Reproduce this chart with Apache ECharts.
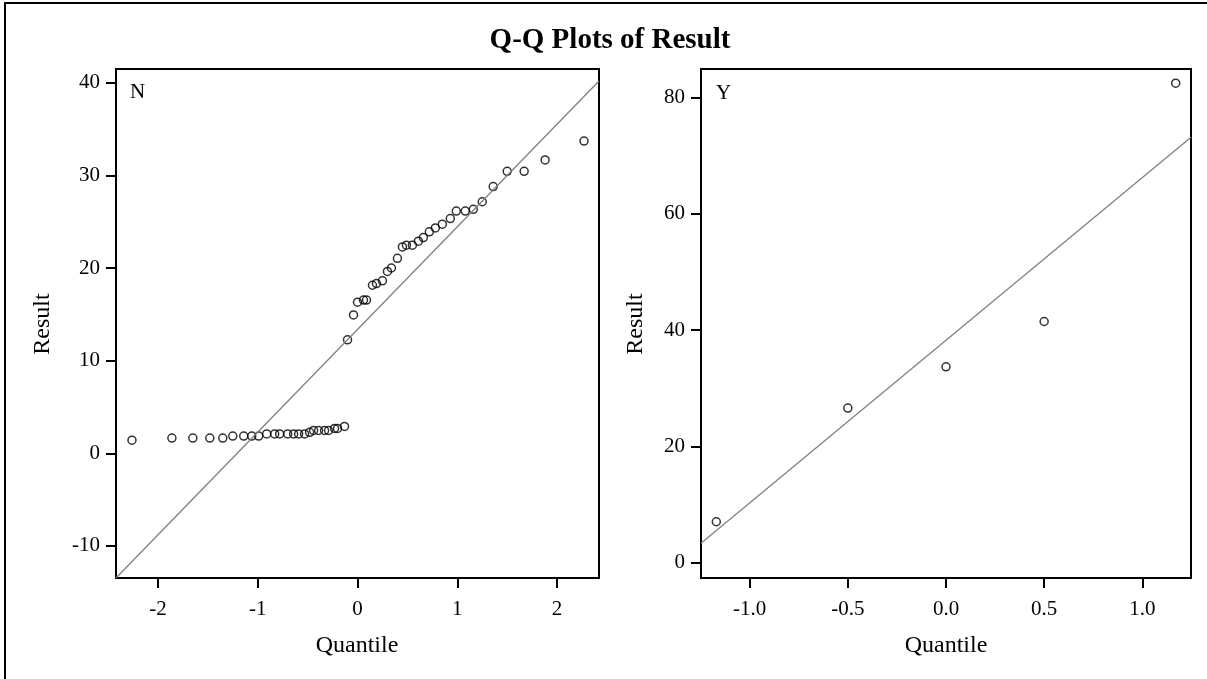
<!DOCTYPE html>
<html>
<head>
<meta charset="utf-8">
<title>Q-Q Plots of Result</title>
<script src="https://cdn.jsdelivr.net/npm/echarts@6.0.0/dist/echarts.min.js"></script>
<style>
  html, body { margin: 0; padding: 0; background: #fff; }
  #chart { width: 1207px; height: 679px; }
</style>
</head>
<body>
<div id="chart"></div>
<script>
// group N
var nQuantile = [-2.26, -1.86, -1.65, -1.48, -1.35, -1.25, -1.14, -1.06, -0.99, -0.91, -0.83, -0.78, -0.70,
  -0.64, -0.59, -0.53, -0.48, -0.44, -0.39, -0.33, -0.29, -0.23, -0.20, -0.13, -0.10, -0.04, 0.00,
  0.06, 0.09, 0.15, 0.19, 0.25, 0.30, 0.34, 0.40, 0.45, 0.49, 0.55, 0.61, 0.66, 0.72, 0.78, 0.85,
  0.93, 0.99, 1.08, 1.16, 1.25, 1.36, 1.50, 1.67, 1.88, 2.27];
var nResult = [1.42, 1.64, 1.64, 1.64, 1.64, 1.86, 1.86, 1.86, 1.86, 2.09, 2.09, 2.09, 2.09,
  2.09, 2.09, 2.09, 2.27, 2.46, 2.46, 2.46, 2.46, 2.68, 2.68, 2.90, 12.25, 14.93, 16.31,
  16.54, 16.54, 18.14, 18.32, 18.62, 19.63, 20.0, 21.04, 22.27, 22.46, 22.46, 22.9, 23.28, 23.91, 24.32, 24.73,
  25.33, 26.15, 26.15, 26.33, 27.15, 28.79, 30.43, 30.43, 31.66, 33.7];
var nRefLine = [[-2.42, -13.46], [2.42, 40.18]];

// group Y
var yQuantile = [-1.17, -0.50, 0.00, 0.50, 1.17];
var yResult = [7.05, 26.6, 33.7, 41.5, 82.5];
var yRefLine = [[-1.248, 3.34], [1.248, 73.19]];

// tick labels
var nXTicks = [-2, -1, 0, 1, 2];
var nYTicks = [-10, 0, 10, 20, 30, 40];
var yXTicks = [-1, -0.5, 0, 0.5, 1];
var yYTicks = [0, 20, 40, 60, 80];

var FONT = '"Liberation Serif", "Times New Roman", serif';

function pairs(xs, ys) {
  return xs.map(function (x, i) { return [x, ys[i]]; });
}

function valueAxis(idx, min, max, ticks, fmt, pos) {
  return {
    type: 'value',
    gridIndex: idx,
    position: pos,
    min: min,
    max: max,
    splitLine: { show: false },
    axisLine: { show: true, onZero: false, lineStyle: { color: '#000', width: 2 } },
    axisTick: { show: true, inside: false, length: 10, customValues: ticks,
      lineStyle: { color: '#000', width: 2 } },
    axisLabel: {
      customValues: ticks,
      color: '#000',
      fontFamily: FONT,
      fontSize: 21,
      margin: pos === 'bottom' ? 21 : 16,
      formatter: fmt
    }
  };
}

var chart = echarts.init(document.getElementById('chart'));
var option = {
  backgroundColor: '#fff',
  animation: false,
  grid: [
    { left: 116, top: 69, width: 483, height: 509, show: true, borderColor: '#000', borderWidth: 2,
      outerBoundsMode: 'none' },
    { left: 701, top: 69, width: 490, height: 509, show: true, borderColor: '#000', borderWidth: 2,
      outerBoundsMode: 'none' }
  ],
  xAxis: [
    valueAxis(0, -2.42, 2.42, nXTicks, function (v) { return String(v); }, 'bottom'),
    valueAxis(1, -1.248, 1.248, yXTicks, function (v) { return v.toFixed(1); }, 'bottom')
  ],
  yAxis: [
    valueAxis(0, -13.46, 41.48, nYTicks, function (v) { return String(v); }, 'left'),
    valueAxis(1, -2.63, 84.94, yYTicks, function (v) { return String(v); }, 'left')
  ],
  graphic: [
    { type: 'rect', shape: { x: 5, y: 3, width: 1400, height: 900 },
      style: { fill: 'none', stroke: '#000', lineWidth: 2 }, silent: true },
    { type: 'text', x: 610, y: 41,
      style: { text: 'Q-Q Plots of Result', font: 'bold 29px ' + FONT, fill: '#000',
        align: 'center', verticalAlign: 'middle' } },
    { type: 'text', x: 130, y: 92,
      style: { text: 'N', font: '21px ' + FONT, fill: '#000', align: 'left', verticalAlign: 'middle' } },
    { type: 'text', x: 716, y: 93,
      style: { text: 'Y', font: '21px ' + FONT, fill: '#000', align: 'left', verticalAlign: 'middle' } },
    { type: 'text', x: 357, y: 646,
      style: { text: 'Quantile', font: '24px ' + FONT, fill: '#000', align: 'center', verticalAlign: 'middle' } },
    { type: 'text', x: 946, y: 646,
      style: { text: 'Quantile', font: '24px ' + FONT, fill: '#000', align: 'center', verticalAlign: 'middle' } },
    { type: 'text', x: 43, y: 324, rotation: Math.PI / 2,
      style: { text: 'Result', font: '24px ' + FONT, fill: '#000', align: 'center', verticalAlign: 'middle' } },
    { type: 'text', x: 636, y: 324, rotation: Math.PI / 2,
      style: { text: 'Result', font: '24px ' + FONT, fill: '#000', align: 'center', verticalAlign: 'middle' } }
  ],
  series: [
    {
      type: 'line', xAxisIndex: 0, yAxisIndex: 0, data: nRefLine,
      symbol: 'none', clip: true, lineStyle: { color: '#808080', width: 1.3 }
    },
    {
      type: 'scatter', xAxisIndex: 0, yAxisIndex: 0, data: pairs(nQuantile, nResult),
      symbol: 'circle', symbolSize: 8,
      itemStyle: { color: 'rgba(0,0,0,0)', borderColor: '#000', borderWidth: 1.5 }
    },
    {
      type: 'line', xAxisIndex: 1, yAxisIndex: 1, data: yRefLine,
      symbol: 'none', clip: true, lineStyle: { color: '#808080', width: 1.3 }
    },
    {
      type: 'scatter', xAxisIndex: 1, yAxisIndex: 1, data: pairs(yQuantile, yResult),
      symbol: 'circle', symbolSize: 8,
      itemStyle: { color: 'rgba(0,0,0,0)', borderColor: '#000', borderWidth: 1.5 }
    }
  ]
};
chart.setOption(option);
</script>
</body>
</html>
